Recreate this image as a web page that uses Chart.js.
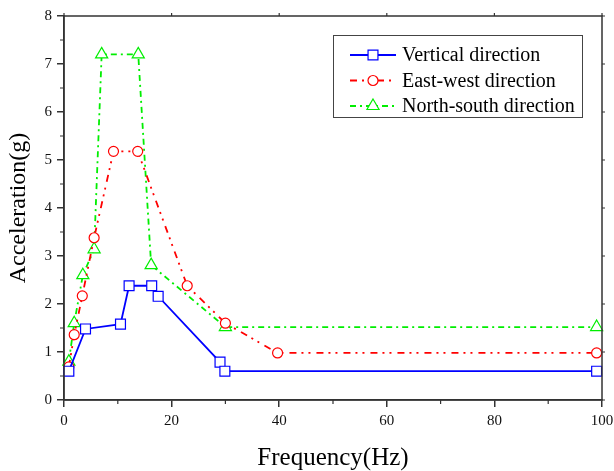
<!DOCTYPE html>
<html>
<head>
<meta charset="utf-8">
<script src="https://cdn.jsdelivr.net/npm/chart.js@4.4.0/dist/chart.umd.min.js"></script>
<style>
  html, body { margin: 0; padding: 0; background: #fff; }
</style>
</head>
<body>
<canvas id="myChart" width="614" height="471"></canvas>
<script>
const seriesNames = ['Vertical direction', 'East-west direction', 'North-south direction'];

const verticalFreq = [0.9, 4.0, 10.5, 12.1, 16.3, 17.5, 29.0, 29.9, 99];
const verticalAcc = [0.6, 1.48, 1.58, 2.38, 2.38, 2.16, 0.79, 0.6, 0.6];

const eastWestFreq = [0.9, 1.9, 3.4, 5.6, 9.2, 13.7, 22.9, 30, 39.7, 99];
const eastWestAcc = [0.69, 1.36, 2.17, 3.38, 5.18, 5.18, 2.38, 1.6, 0.98, 0.98];

const northSouthFreq = [0.9, 1.9, 3.5, 5.6, 7.0, 13.8, 16.2, 30, 99];
const northSouthAcc = [0.8, 1.6, 2.6, 3.14, 7.2, 7.2, 2.81, 1.52, 1.52];

const xTicks = [0, 20, 40, 60, 80, 100];
const yTicks = [0, 1, 2, 3, 4, 5, 6, 7, 8];

const toPoints = (xs, ys) => xs.map((x, i) => ({ x: x, y: ys[i] }));

const axisColor = '#333';
const serif = '"Liberation Serif", "Times New Roman", serif';

// draws the box round the plot, the minor ticks and the legend
const extras = {
  id: 'extras',
  afterDraw(chart) {
    const ctx = chart.ctx;
    const area = chart.chartArea;
    const xs = chart.scales.x;
    const ys = chart.scales.y;
    ctx.save();
    ctx.strokeStyle = axisColor;
    ctx.lineWidth = 1.5;
    ctx.strokeRect(area.left, area.top, area.right - area.left, area.bottom - area.top);

    ctx.lineWidth = 1.2;
    ctx.beginPath();
    for (let v = 10; v < 100; v += 20) {
      const px = xs.getPixelForValue(v);
      ctx.moveTo(px, area.bottom);
      ctx.lineTo(px, area.bottom + 4);
    }
    for (let v = 0.5; v < 8; v += 1) {
      const py = ys.getPixelForValue(v);
      ctx.moveTo(area.left, py);
      ctx.lineTo(area.left - 4, py);
    }
    xTicks.forEach(v => {
      const px = xs.getPixelForValue(v);
      ctx.moveTo(px, area.top);
      ctx.lineTo(px, area.top - 3);
    });
    yTicks.forEach(v => {
      const py = ys.getPixelForValue(v);
      ctx.moveTo(area.right, py);
      ctx.lineTo(area.right + 3, py);
    });
    ctx.stroke();

    // legend
    ctx.strokeStyle = '#444';
    ctx.lineWidth = 1;
    ctx.strokeRect(333.5, 35.5, 249, 82);
    chart.data.datasets.forEach((ds, i) => {
      const y = 55 + i * 25.5;
      ctx.strokeStyle = ds.borderColor;
      ctx.lineWidth = ds.borderWidth;
      ctx.setLineDash(ds.borderDash || []);
      ctx.beginPath();
      ctx.moveTo(350, y);
      ctx.lineTo(396, y);
      ctx.stroke();
      ctx.setLineDash([]);
      ctx.fillStyle = '#fff';
      ctx.strokeStyle = ds.pointBorderColor;
      ctx.lineWidth = ds.pointBorderWidth;
      Chart.helpers.drawPoint(ctx, {
        pointStyle: ds.pointStyle,
        radius: ds.pointRadius,
        borderWidth: ds.pointBorderWidth,
        rotation: 0
      }, 373, y);
      ctx.fillStyle = '#000';
      ctx.font = '20px ' + serif;
      ctx.textBaseline = 'middle';
      ctx.fillText(seriesNames[i], 402, y + 1);
    });
    ctx.restore();
  }
};

const makeSet = (label, pts, color, dash, style, radius) => ({
  label: label,
  data: pts,
  borderColor: color,
  borderWidth: 1.8,
  borderDash: dash,
  backgroundColor: '#fff',
  pointBackgroundColor: '#fff',
  pointBorderColor: color,
  pointBorderWidth: 1.2,
  pointStyle: style,
  pointRadius: radius,
  pointHoverRadius: radius,
  tension: 0,
  clip: 10
});

const ctx = document.getElementById('myChart');
const myChart = new Chart(ctx, {
  type: 'line',
  data: {
    datasets: [
      makeSet(seriesNames[0], toPoints(verticalFreq, verticalAcc), '#0000ff', [], 'rect', 7),
      makeSet(seriesNames[1], toPoints(eastWestFreq, eastWestAcc), '#ff0000', [7, 5, 2, 5, 2, 6], 'circle', 5),
      makeSet(seriesNames[2], toPoints(northSouthFreq, northSouthAcc), '#00ee00', [6, 4, 2, 4], 'triangle', 7)
    ]
  },
  options: {
    responsive: false,
    animation: false,
    devicePixelRatio: 1,
    layout: { padding: { top: 16, right: 12, left: 0, bottom: 0 } },
    plugins: {
      legend: { display: false },
      tooltip: { enabled: false }
    },
    scales: {
      x: {
        type: 'linear',
        min: 0,
        max: 100,
        afterFit: (scale) => {
          scale.height = 71;
          scale.paddingLeft = 0;
          scale.paddingRight = 0;
        },
        afterBuildTicks: (scale) => { scale.ticks = xTicks.map(v => ({ value: v })); },
        ticks: {
          color: '#111',
          padding: 5,
          maxRotation: 0,
          font: { family: serif, size: 15 }
        },
        grid: { drawOnChartArea: false, drawTicks: true, tickLength: 7, color: axisColor, lineWidth: 1.5 },
        border: { display: true, color: axisColor, width: 1.5 },
        title: {
          display: true,
          text: 'Frequency(Hz)',
          color: '#000',
          padding: 0,
          font: { family: serif, size: 25, lineHeight: 1 }
        }
      },
      y: {
        min: 0,
        max: 8,
        afterFit: (scale) => {
          scale.width = 64;
          scale.paddingTop = 0;
          scale.paddingBottom = 0;
        },
        afterBuildTicks: (scale) => { scale.ticks = yTicks.map(v => ({ value: v })); },
        ticks: {
          color: '#111',
          padding: 5,
          font: { family: serif, size: 15 }
        },
        grid: { drawOnChartArea: false, drawTicks: true, tickLength: 7, color: axisColor, lineWidth: 1.5 },
        border: { display: true, color: axisColor, width: 1.5 },
        title: {
          display: true,
          text: 'Acceleration(g)',
          color: '#000',
          padding: { top: 7, bottom: 0 },
          font: { family: serif, size: 24, lineHeight: 1 }
        }
      }
    }
  },
  plugins: [extras]
});
</script>
</body>
</html>
